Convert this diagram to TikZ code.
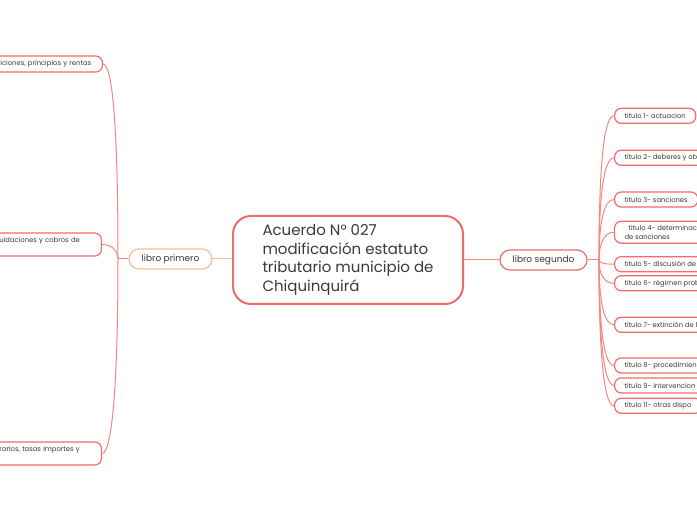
\documentclass[tikz,border=0pt]{standalone}
\usepackage{fontspec}
\setmainfont{Poppins}
\definecolor{mapred}{HTML}{F46B6B}
\definecolor{mapline}{HTML}{F88585}
\definecolor{mappeach}{HTML}{FFBE93}
\definecolor{maptext}{HTML}{3A3A3A}
\begin{document}
\begin{tikzpicture}[x=0.75pt, y=-0.75pt,
  every node/.style={text=maptext},
  topic/.style={draw=mapred, line width=1.5pt, rounded corners=13.5pt, fill=white, align=left,
    minimum width=172.5pt, minimum height=66pt, font=\fontsize{11.25pt}{13.9pt}\selectfont},
  book/.style={draw=mapred, line width=0.9pt, rounded corners=7.5pt, fill=white, inner sep=0pt,
    minimum height=15pt, font=\fontsize{6.75pt}{8pt}\selectfont},
  titlebox/.style={draw=mapred, line width=0.9pt, rounded corners=5pt, fill=white, anchor=west,
    align=left, inner xsep=7.5pt, inner ysep=1pt, minimum height=11.25pt,
    font=\fontsize{5.1pt}{6.4pt}\selectfont},
  leftbox/.style={titlebox, anchor=east, text width=70.5pt, inner xsep=6pt},
  branch/.style={draw=mapline, line width=0.75pt}]
\fill[white] (0,0) rectangle (697,520);
\useasboundingbox (0,0) rectangle (697,520);

% main topic and the two books
\node[topic] (c) at (348,260) {Acuerdo N° 027\\ modificación estatuto\\ tributario municipio de\\ Chiquinquirá};
\node[book, draw=mappeach, minimum width=62.25pt] (b1) at (170.5,259) {libro primero};
\node[book, minimum width=65.25pt] (b2) at (543.5,260) {libro segundo};

% libro primero
\node[leftbox, minimum height=12pt] (l1) at (103,64) {iciones, principios y rentas};
\node[leftbox, minimum height=17.25pt] (l2) at (102,244.5) {uidaciones y cobros de\\\mbox{}};
\node[leftbox, minimum height=17.25pt] (l3) at (102,453.5) {rarios, tasas importes y\\\mbox{}};

% libro segundo
\node[titlebox] (r1) at (614,115.8) {titulo 1- actuacion};
\node[titlebox] (r2) at (614,157.8) {titulo 2- deberes y ob};
\node[titlebox] (r3) at (614,199.5) {titulo 3- sanciones};
\node[titlebox, minimum height=16.5pt] (r4) at (614,232.2) {\hspace*{3pt}titulo 4- determinac\\ de sanciones};
\node[titlebox] (r5) at (614,264.2) {titulo 5- discusión de};
\node[titlebox] (r6) at (614,283.3) {titulo 6- régimen prob};
\node[titlebox] (r7) at (614,324.8) {titulo 7- extinción de l};
\node[titlebox] (r8) at (614,365.5) {titulo 8- procedimien};
\node[titlebox] (r9) at (614,385.5) {titulo 9- intervencion};
\node[titlebox] (r10) at (614,405.8) {titulo 11- otras dispo};

\coordinate (ls) at (118,259);
\coordinate (rs) at (599,260);

\draw[draw=mappeach, line width=0.75pt] (c.west |- b1) -- (b1.east);
\draw[branch] (c.east) -- (b2.west);

\draw[branch] (b1.west) -- (ls);
\draw[branch] (ls) .. controls +(0,-125) and +(10,0) .. (l1.east);
\draw[branch] (ls) .. controls +(0,-9) and +(9,0) .. (l2.east);
\draw[branch] (ls) .. controls +(0,125) and +(10,0) .. (l3.east);

\draw[branch] (b2.east) -- (rs);
\draw[branch] (rs) .. controls +(0,-95) and +(-10,0) .. (r1.west);
\draw[branch] (rs) .. controls +(0,-65) and +(-10,0) .. (r2.west);
\draw[branch] (rs) .. controls +(0,-38) and +(-10,0) .. (r3.west);
\draw[branch] (rs) .. controls +(0,-18) and +(-9,0) .. (r4.west);
\draw[branch] (rs) .. controls +(0,3) and +(-9,0) .. (r5.west);
\draw[branch] (rs) .. controls +(0,15) and +(-9,0) .. (r6.west);
\draw[branch] (rs) .. controls +(0,42) and +(-10,0) .. (r7.west);
\draw[branch] (rs) .. controls +(0,68) and +(-10,0) .. (r8.west);
\draw[branch] (rs) .. controls +(0,80) and +(-10,0) .. (r9.west);
\draw[branch] (rs) .. controls +(0,95) and +(-10,0) .. (r10.west);
\end{tikzpicture}
\end{document}
